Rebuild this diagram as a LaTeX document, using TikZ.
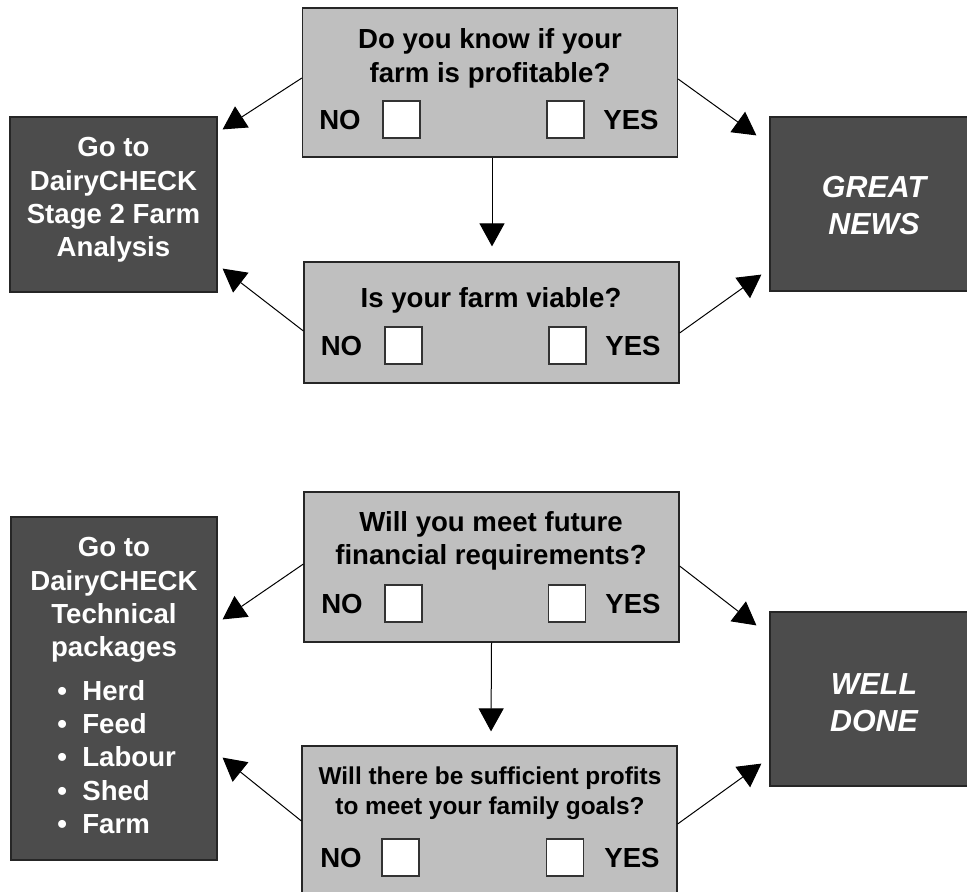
\documentclass[tikz,border=0pt]{standalone}
\usepackage{fontspec}
\setmainfont{Liberation Sans}
\usetikzlibrary{arrows.meta}
\begin{document}
\begin{tikzpicture}[x=0.5pt,y=-0.5pt,
  qbox/.style={draw=black!85,line width=0.6pt,fill=black!25,minimum width=187.5pt,inner sep=0pt},
  gobox/.style={draw=black!85,line width=0.6pt,fill=black!70,inner sep=0pt},
  tick/.style={draw=black!80,line width=0.6pt,fill=white,minimum size=18.5pt,inner sep=0pt},
  lbl/.style={font=\fontsize{13.8}{16.7}\selectfont\bfseries,inner sep=0pt,align=center},
  small/.style={font=\fontsize{12.2}{15}\selectfont\bfseries,inner sep=0pt,align=center},
  wlbl/.style={lbl,text=white},
  big/.style={font=\fontsize{15.2}{18.5}\selectfont\bfseries\itshape,text=white,inner sep=0pt,align=center},
  arr/.style={line width=0.5pt,-{Triangle[length=11.5pt,width=12.5pt]}}]
  \useasboundingbox (0,0) rectangle (967,892);
  \clip (0,0) rectangle (967,892);

  \node[qbox,minimum height=74.5pt] (q1) at (490,82.5) {};
  \node[lbl] (q1t) at (490,58.5) {Do you know if your\\farm is profitable?};
  \node[lbl] (q1n) at (340,120) {NO};
  \node[tick] (q1a) at (401.5,119.5) {};
  \node[tick] (q1b) at (565.5,119.5) {};
  \node[lbl] (q1y) at (631,120) {YES};

  \node[qbox,minimum height=60.5pt] (q2) at (491.5,322.5) {};
  \node[lbl] (q2t) at (491,300) {Is your farm viable?};
  \node[lbl] (q2n) at (341.5,346) {NO};
  \node[tick] (q2a) at (403.5,345.5) {};
  \node[tick] (q2b) at (567.5,345.5) {};
  \node[lbl] (q2y) at (633,346) {YES};

  \node[gobox,minimum width=103.5pt,minimum height=87.5pt] (go1) at (113.5,204.5) {};
  \node[wlbl] (go1t) at (113.5,200) {Go to\\DairyCHECK\\Stage 2 Farm\\Analysis};
  \node[gobox,minimum width=101pt,minimum height=87pt] (great) at (871,204) {};
  \node[big] (greatt) at (874,206) {GREAT\\NEWS};

  \draw[arr] ([shift={(0,-4.5)}]q1.west) -- ([shift={(5,13)}]go1.north east);
  \draw[arr] ([shift={(0,8.5)}]q2.west) -- ([shift={(5,-24)}]go1.south east);
  \draw[arr] ([shift={(0,-3.5)}]q1.east) -- ([shift={(-13,19)}]great.north west);
  \draw[arr] ([shift={(0,10.5)}]q2.east) -- ([shift={(-8,-17)}]great.south west);
  \draw[arr] ([shift={(2,0)}]q1.south) -- ([shift={(0.5,-15)}]q2.north);

  \node[qbox,minimum height=75pt] (q3) at (491.5,567) {};
  \node[lbl] (q3t) at (491,541) {Will you meet future\\financial requirements?};
  \node[lbl] (q3n) at (342,604) {NO};
  \node[tick] (q3a) at (403.5,603.5) {};
  \node[tick] (q3b) at (567,603.5) {};
  \node[lbl] (q3y) at (633,604) {YES};

  \node[qbox,minimum height=75pt] (q4) at (489.5,821) {};
  \node[small] (q4t) at (490,793) {Will there be sufficient profits\\to meet your family goals?};
  \node[lbl] (q4n) at (341,858) {NO};
  \node[tick] (q4a) at (400.5,857.5) {};
  \node[tick] (q4b) at (565,857.5) {};
  \node[lbl] (q4y) at (632,858) {YES};

  \node[gobox,minimum width=103pt,minimum height=171.5pt] (go2) at (114,688.5) {};
  \node[wlbl] (go2t) at (114,600) {Go to\\DairyCHECK\\Technical\\packages};
  \node[wlbl,align=left,anchor=west] (go2l) at (57,757)
    {\makebox[12.5pt][l]{•}Herd\\\makebox[12.5pt][l]{•}Feed\\\makebox[12.5pt][l]{•}Labour\\\makebox[12.5pt][l]{•}Shed\\\makebox[12.5pt][l]{•}Farm};
  \node[gobox,minimum width=101pt,minimum height=87pt] (well) at (871,699) {};
  \node[big] (wellt) at (874,703) {WELL\\DONE};

  \draw[arr] ([shift={(0,-3)}]q3.west) -- ([shift={(5,103)}]go2.north east);
  \draw[arr] (q4.west) -- ([shift={(5,-103)}]go2.south east);
  \draw[arr] ([shift={(0,-1)}]q3.east) -- ([shift={(-13,14)}]well.north west);
  \draw[arr] ([shift={(0,3)}]q4.east) -- ([shift={(-8,-23)}]well.south west);
  \draw[arr] (q3.south) -- ([shift={(1.5,-14)}]q4.north);
\end{tikzpicture}
\end{document}
